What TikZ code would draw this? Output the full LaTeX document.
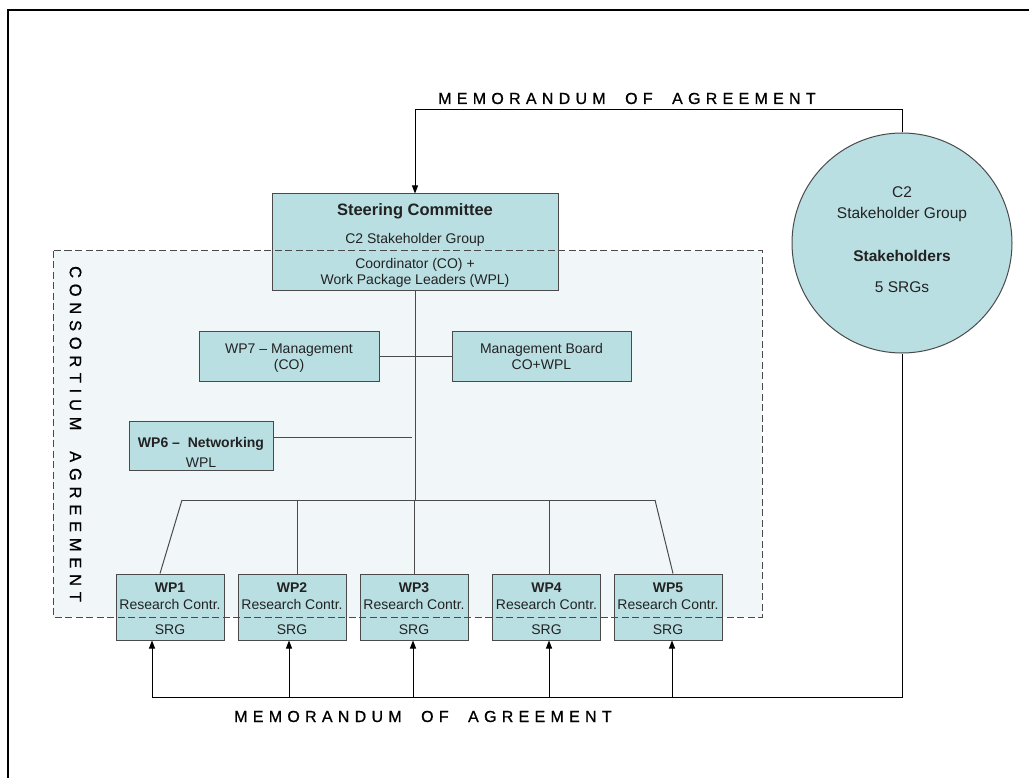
\documentclass[tikz,border=0pt]{standalone}
\usepackage{fontspec}
\setmainfont{Liberation Sans}
\newfontfamily\spacedfont[LetterSpace=33,FakeBold=0.8]{Liberation Sans}
\newfontfamily\vspacedfont[LetterSpace=35,FakeBold=0.8]{Liberation Sans}
\usetikzlibrary{arrows.meta}
\definecolor{boxfill}{HTML}{BADFE3}
\definecolor{boxline}{HTML}{4A4A4A}
\definecolor{dashfill}{HTML}{F1F6F9}
\definecolor{txt}{HTML}{222222}
\begin{document}
\begin{tikzpicture}[x=1pt,y=-1pt,
  box/.style={draw=boxline, fill=boxfill, line width=1pt, inner sep=0pt},
  lbl/.style={text=txt, font=\fontsize{14}{16}\selectfont, inner sep=0pt, anchor=base},
  blbl/.style={text=txt, font=\bfseries\fontsize{14}{16}\selectfont, inner sep=0pt, anchor=base},
  clbl/.style={text=txt, font=\fontsize{15.5}{17}\selectfont, inner sep=0pt, anchor=base},
  conn/.style={draw=boxline, line width=1pt},
  arr/.style={draw=black, line width=1pt, -{Triangle[length=8pt,width=6pt]}},
  memo/.style={text=black, font=\spacedfont\fontsize{16}{18}\selectfont, inner sep=0pt, anchor=base west},
]
\useasboundingbox (0,0) rectangle (1029,778);
\fill[white] (0,0) rectangle (1029,778);
% frame
\draw[line width=1.6pt] (8,778) -- (8,10) -- (1029,10);

% consortium area fill
\fill[dashfill] (53,251) rectangle (762,617);

% boxes
\node[box, minimum width=286pt, minimum height=97pt] (sc) at (415,242.5) {};
\node[box, minimum width=180pt, minimum height=49pt] (wp7) at (289,356.5) {};
\node[box, minimum width=179pt, minimum height=49pt] (mb) at (541.5,356.5) {};
\node[box, minimum width=144pt, minimum height=49pt] (wp6) at (201,445.5) {};
\node[box, minimum width=108pt, minimum height=66pt] (wp1) at (170,607) {};
\node[box, minimum width=108pt, minimum height=66pt] (wp2) at (292,607) {};
\node[box, minimum width=108pt, minimum height=66pt] (wp3) at (414,607) {};
\node[box, minimum width=108pt, minimum height=66pt] (wp4) at (546.5,607) {};
\node[box, minimum width=108pt, minimum height=66pt] (wp5) at (668,607) {};
\node[box, circle, minimum size=220pt] (circ) at (902,243) {};

% dashed border on top
\draw[boxline, line width=1pt, dash pattern=on 7pt off 3.5pt] (53,251) rectangle (762,617);

% texts: steering committee
\node[blbl, font=\bfseries\fontsize{16.5}{18}\selectfont] (t1) at (415,215.5) {Steering Committee};
\node[lbl] (t2) at (415,244) {C2 Stakeholder Group};
\node[lbl] (t3) at (415,269) {Coordinator (CO) +};
\node[lbl] (t4) at (415,285) {Work Package Leaders (WPL)};
% WP7, MB, WP6
\node[lbl] (t5) at (289,353) {WP7 -- Management};
\node[lbl] (t6) at (289,370) {(CO)};
\node[lbl] (t7) at (541.5,353) {Management Board};
\node[lbl] (t8) at (541.5,369) {CO+WPL};
\node[blbl] (t9) at (201,447) {WP6 --\ \ Networking};
\node[lbl] (t10) at (201,467) {WPL};
% WP1-5
\foreach \n/\x in {1/170,2/292,3/414,4/546.5,5/668}{
  \node[blbl] (wpa\n) at (\x,592) {WP\n};
  \node[lbl] (wpb\n) at (\x,609) {Research Contr.};
  \node[lbl] (wpc\n) at (\x,634) {SRG};
}
% circle text
\node[clbl] (c1) at (902,198) {C2};
\node[clbl] (c2) at (902,219) {Stakeholder Group};
\node[clbl, font=\bfseries\fontsize{15.5}{17}\selectfont] (c3) at (902,262) {Stakeholders};
\node[clbl] (c4) at (902,293) {5 SRGs};

% memorandum labels
\node[memo] (m1) at (438,104) {MEMORANDUM\ \ OF\ \ AGREEMENT};
\node[memo] (m2) at (234,722) {MEMORANDUM\ \ OF\ \ AGREEMENT};
% consortium label
\node[rotate=-90, inner sep=0pt, font=\vspacedfont\fontsize{16.5}{18}\selectfont, text=black] (cons) at (75.5,434) {CONSORTIUM\ \ AGREEMENT};

% connectors
\coordinate (topy) at (0,110);
\coordinate (boty) at (0,697);
\coordinate (bary) at (0,500);
\draw[arr] (circ.north) -- (circ.north |- topy) -- (sc.north |- topy) -- (sc.north);
\draw[conn] (sc.south) -- (sc.south |- bary);
\draw[conn] (wp7.east) -- (mb.west);
\coordinate (wp6end) at (412,437);
\draw[conn] (wp6.east |- wp6end) -- (wp6end);
\coordinate (barl) at (182,500);
\coordinate (barr) at (655,500);
\draw[conn] (barl) -- (barr);
\draw[conn] (barl) -- ([xshift=-10pt]wp1.north);
\draw[conn] ([xshift=5pt]wp2.north) -- ([xshift=5pt]wp2.north |- bary);
\draw[conn] (wp3.north) -- (wp3.north |- bary);
\draw[conn] ([xshift=2.5pt]wp4.north) -- ([xshift=2.5pt]wp4.north |- bary);
\draw[conn] (barr) -- ([xshift=5pt]wp5.north);
% bottom memorandum
\draw[line width=1pt] (circ.south) -- (circ.south |- boty) -- ([xshift=-18pt]wp1.south |- boty);
\draw[arr] ([xshift=-18pt]wp1.south |- boty) -- ([xshift=-18pt]wp1.south);
\draw[arr] ([xshift=-3pt]wp2.south |- boty) -- ([xshift=-3pt]wp2.south);
\draw[arr] ([xshift=-1pt]wp3.south |- boty) -- ([xshift=-1pt]wp3.south);
\draw[arr] ([xshift=2.5pt]wp4.south |- boty) -- ([xshift=2.5pt]wp4.south);
\draw[arr] ([xshift=4pt]wp5.south |- boty) -- ([xshift=4pt]wp5.south);
\end{tikzpicture}
\end{document}
